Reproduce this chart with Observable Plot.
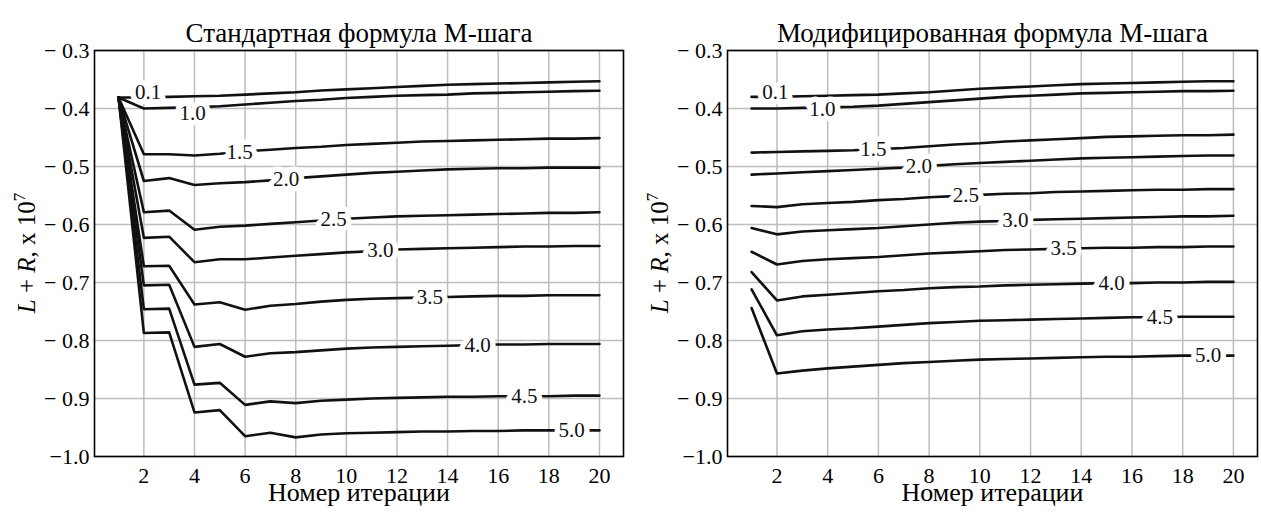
<!DOCTYPE html>
<html><head><meta charset="utf-8">
<script src="https://cdn.jsdelivr.net/npm/d3@7"></script>
<script src="https://cdn.jsdelivr.net/npm/@observablehq/plot@0.6"></script>
<style>
body{margin:0;background:#fff;overflow:hidden;font-family:"Liberation Serif",serif}
#wrap{display:flex;width:1261px;height:519px}
</style></head><body><div id="wrap"></div>
<script>
const iterations = [1,2,3,4,5,6,7,8,9,10,11,12,13,14,15,16,17,18,19,20];
const levels = ["0.1","1.0","1.5","2.0","2.5","3.0","3.5","4.0","4.5","5.0"];
const xTicks = [2,4,6,8,10,12,14,16,18,20];
const yTicks = [-0.3,-0.4,-0.5,-0.6,-0.7,-0.8,-0.9,-1.0];
const titles = ["Стандартная формула М-шага", "Модифицированная формула М-шага"];
const xLabel = "Номер итерации";

// Standard M-step formula
const std01 = [-0.381,-0.381,-0.380,-0.379,-0.378,-0.376,-0.374,-0.372,-0.369,-0.367,-0.365,-0.363,-0.361,-0.359,-0.358,-0.357,-0.356,-0.355,-0.354,-0.353];
const std10 = [-0.381,-0.400,-0.399,-0.398,-0.396,-0.393,-0.390,-0.387,-0.385,-0.382,-0.380,-0.378,-0.377,-0.376,-0.374,-0.373,-0.372,-0.371,-0.370,-0.3695];
const std15 = [-0.381,-0.479,-0.479,-0.481,-0.478,-0.474,-0.471,-0.468,-0.466,-0.463,-0.461,-0.459,-0.457,-0.456,-0.455,-0.454,-0.453,-0.452,-0.452,-0.451];
const std20 = [-0.381,-0.525,-0.520,-0.532,-0.529,-0.527,-0.524,-0.520,-0.517,-0.514,-0.511,-0.509,-0.507,-0.505,-0.504,-0.503,-0.503,-0.502,-0.502,-0.502];
const std25 = [-0.381,-0.579,-0.576,-0.609,-0.604,-0.602,-0.599,-0.596,-0.593,-0.590,-0.588,-0.586,-0.585,-0.584,-0.583,-0.582,-0.581,-0.580,-0.580,-0.579];
const std30 = [-0.381,-0.623,-0.621,-0.665,-0.660,-0.660,-0.657,-0.654,-0.651,-0.648,-0.646,-0.643,-0.642,-0.641,-0.640,-0.639,-0.638,-0.638,-0.637,-0.637];
const std35 = [-0.381,-0.672,-0.671,-0.738,-0.734,-0.747,-0.740,-0.737,-0.733,-0.730,-0.728,-0.727,-0.726,-0.725,-0.724,-0.723,-0.723,-0.722,-0.722,-0.722];
const std40 = [-0.381,-0.705,-0.704,-0.811,-0.806,-0.828,-0.822,-0.820,-0.817,-0.814,-0.812,-0.811,-0.810,-0.809,-0.808,-0.807,-0.807,-0.806,-0.806,-0.806];
const std45 = [-0.381,-0.746,-0.745,-0.876,-0.873,-0.911,-0.905,-0.908,-0.904,-0.902,-0.900,-0.899,-0.898,-0.897,-0.897,-0.896,-0.896,-0.896,-0.895,-0.895];
const std50 = [-0.381,-0.787,-0.786,-0.924,-0.920,-0.965,-0.959,-0.967,-0.962,-0.960,-0.959,-0.958,-0.957,-0.957,-0.956,-0.956,-0.955,-0.955,-0.955,-0.955];
const stdLabelX = [2.17,3.93,5.78,7.62,9.5,11.34,13.3,15.19,17.03,18.9];

// Modified M-step formula
const mod01 = [-0.380,-0.380,-0.379,-0.378,-0.377,-0.376,-0.374,-0.372,-0.369,-0.366,-0.364,-0.362,-0.360,-0.358,-0.357,-0.356,-0.355,-0.354,-0.353,-0.353];
const mod10 = [-0.400,-0.400,-0.399,-0.398,-0.397,-0.395,-0.392,-0.389,-0.386,-0.383,-0.380,-0.378,-0.376,-0.374,-0.373,-0.372,-0.371,-0.370,-0.370,-0.3695];
const mod15 = [-0.476,-0.475,-0.474,-0.473,-0.472,-0.470,-0.468,-0.465,-0.462,-0.460,-0.457,-0.455,-0.453,-0.451,-0.449,-0.448,-0.447,-0.446,-0.446,-0.445];
const mod20 = [-0.514,-0.512,-0.510,-0.508,-0.506,-0.504,-0.502,-0.499,-0.496,-0.494,-0.492,-0.490,-0.488,-0.486,-0.485,-0.484,-0.483,-0.482,-0.481,-0.481];
const mod25 = [-0.568,-0.570,-0.565,-0.563,-0.561,-0.558,-0.556,-0.553,-0.551,-0.549,-0.547,-0.546,-0.544,-0.543,-0.542,-0.541,-0.540,-0.540,-0.539,-0.539];
const mod30 = [-0.606,-0.617,-0.612,-0.610,-0.608,-0.606,-0.603,-0.600,-0.597,-0.595,-0.594,-0.592,-0.591,-0.590,-0.589,-0.588,-0.587,-0.586,-0.586,-0.585];
const mod35 = [-0.647,-0.669,-0.663,-0.660,-0.658,-0.656,-0.653,-0.650,-0.648,-0.646,-0.644,-0.643,-0.642,-0.641,-0.640,-0.640,-0.639,-0.639,-0.638,-0.638];
const mod40 = [-0.682,-0.731,-0.724,-0.721,-0.718,-0.715,-0.713,-0.710,-0.708,-0.707,-0.705,-0.704,-0.703,-0.702,-0.701,-0.701,-0.700,-0.700,-0.699,-0.699];
const mod45 = [-0.712,-0.791,-0.784,-0.781,-0.779,-0.776,-0.773,-0.770,-0.768,-0.766,-0.765,-0.764,-0.763,-0.762,-0.761,-0.760,-0.760,-0.759,-0.759,-0.759];
const mod50 = [-0.744,-0.857,-0.852,-0.848,-0.845,-0.842,-0.839,-0.837,-0.835,-0.833,-0.832,-0.831,-0.830,-0.829,-0.828,-0.828,-0.827,-0.826,-0.826,-0.826];
const modLabelX = [1.94,3.79,5.8,7.6,9.45,11.4,13.3,15.2,17.1,19.0];

const FAMILY = "Liberation Serif";
const NS = "http://www.w3.org/2000/svg";

function interp(vals, x) {
  const i = Math.max(0, Math.min(iterations.length - 2, Math.floor(x) - 1));
  const t = (x - iterations[i]) / (iterations[i + 1] - iterations[i]);
  return vals[i] + t * (vals[i + 1] - vals[i]);
}
const fmtY = d => d <= -0.999 ? "\u22121.0" : "\u2212 " + Math.abs(d).toFixed(1);

function panel(title, series, labelX, width, marginLeft, marginRight, labelDy) {
  const rows = series.flatMap((vals, i) => vals.map((v, j) => ({x: iterations[j], y: v, level: levels[i]})));
  const labels = levels.map((lv, i) => ({x: labelX[i], y: interp(series[i], labelX[i]), text: lv, i}));
  const height = 519, marginTop = 50, marginBottom = 63;
  const textOpts = (dy) => ({x: "x", y: "y", text: "text", fill: "#111", stroke: "white", strokeWidth: 11,
    fontSize: 21, fontFamily: FAMILY, dy});
  const plot = Plot.plot({
    width, height, marginLeft, marginRight, marginTop, marginBottom,
    x: {domain: [0.05, 20.95]},
    y: {domain: [-1.0, -0.3]},
    marks: [
      Plot.gridX(xTicks, {stroke: "#bdbdbd", strokeOpacity: 1, strokeWidth: 1.5}),
      Plot.gridY(yTicks, {stroke: "#bdbdbd", strokeOpacity: 1, strokeWidth: 1.5}),
      Plot.line(rows, {x: "x", y: "y", z: "level", stroke: "#111", strokeWidth: 2.6}),
      Plot.text(labels.filter(d => d.i === 0), textOpts(labelDy[0])),
      Plot.text(labels.filter(d => d.i === 1), textOpts(labelDy[1])),
      Plot.text(labels.filter(d => d.i > 1), textOpts(0)),
      Plot.frame({stroke: "#000", strokeWidth: 1.6}),
      Plot.axisX(xTicks, {tickSize: 0, tickPadding: 11, label: null, fontSize: 22, fontFamily: FAMILY}),
      Plot.axisY(yTicks, {tickSize: 0, tickPadding: 5, tickFormat: fmtY, label: null, fontSize: 22, fontFamily: FAMILY}),
      Plot.text([title], {frameAnchor: "top", dy: -27.6, fontSize: 27, fontFamily: FAMILY, fill: "#000"}),
      Plot.text([xLabel], {frameAnchor: "bottom", dy: 44.7, fontSize: 26, fontFamily: FAMILY, fill: "#000"})
    ]
  });
  const yl = document.createElementNS(NS, "text");
  yl.setAttribute("transform", `translate(${marginLeft - 59},${(marginTop + height - marginBottom) / 2}) rotate(-90)`);
  yl.setAttribute("text-anchor", "middle");
  yl.setAttribute("font-family", FAMILY);
  yl.setAttribute("font-size", 25);
  yl.setAttribute("fill", "#000");
  const parts = [["L", {"font-style": "italic"}], [" + ", {}], ["R", {"font-style": "italic"}], [", x 10", {}], ["7", {dy: -10, "font-size": 17}]];
  for (const [txt, attrs] of parts) {
    const ts = document.createElementNS(NS, "tspan");
    for (const k in attrs) ts.setAttribute(k, attrs[k]);
    ts.textContent = txt;
    yl.appendChild(ts);
  }
  plot.appendChild(yl);
  return plot;
}

const wrap = document.getElementById("wrap");
wrap.appendChild(panel(titles[0], [std01,std10,std15,std20,std25,std30,std35,std40,std45,std50], stdLabelX, 630, 94, 7, [-5, 6]));
wrap.appendChild(panel(titles[1], [mod01,mod10,mod15,mod20,mod25,mod30,mod35,mod40,mod45,mod50], modLabelX, 631, 97, 4, [-5, 2]));
</script></body></html>
